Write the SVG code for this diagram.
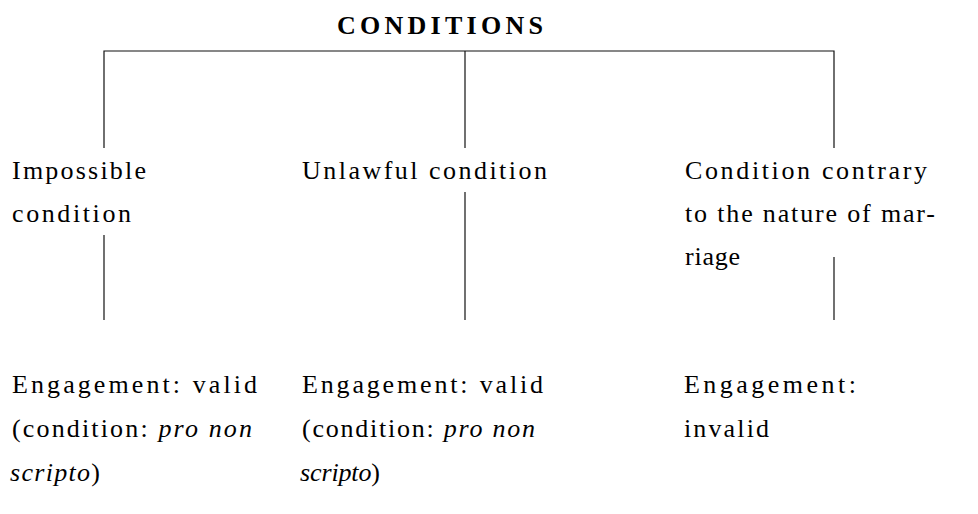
<svg xmlns="http://www.w3.org/2000/svg" width="978" height="514" viewBox="0 0 978 514">
  <style>
    .t { font-family: "Liberation Serif", "DejaVu Serif", serif; font-size: 26px; fill: #000; }
    .h { font-family: "Liberation Serif", "DejaVu Serif", serif; font-size: 26px; font-weight: bold; fill: #000; }
    .i { font-style: italic; }
    .c { fill: none; stroke: #111; stroke-width: 1.2; }
  </style>
  <rect width="978" height="514" fill="#fff"/>

  <!-- tree connectors -->
  <g id="connectors">
    <path class="c" d="M104 148 V51 H834 V148"/>
    <path class="c" d="M465 51 V148"/>
    <path class="c" d="M104 235 V320"/>
    <path class="c" d="M465 192 V320"/>
    <path class="c" d="M834 257 V320"/>
  </g>

  <g id="root">
    <text class="h" x="337" y="34" textLength="206" lengthAdjust="spacing">CONDITIONS</text>
  </g>

  <g id="impossible">
    <text class="t" x="12" y="179" textLength="134">Impossible</text>
    <text class="t" x="12" y="222" textLength="119">condition</text>
  </g>

  <g id="unlawful">
    <text class="t" x="302" y="179" textLength="245">Unlawful condition</text>
  </g>

  <g id="contrary">
    <text class="t" x="685" y="179" textLength="242">Condition contrary</text>
    <text class="t" x="685" y="222" textLength="250">to the nature of mar-</text>
    <text class="t" x="685" y="265" textLength="55">riage</text>
  </g>

  <g id="result-impossible">
    <text class="t" x="12" y="393" textLength="245">Engagement: valid</text>
    <text class="t" x="12" y="437" textLength="240">(condition: <tspan class="i">pro non</tspan></text>
    <text class="t" x="10" y="481" textLength="90"><tspan class="i">scripto</tspan>)</text>
  </g>

  <g id="result-unlawful">
    <text class="t" x="302" y="393" textLength="241">Engagement: valid</text>
    <text class="t" x="302" y="437" textLength="233">(condition: <tspan class="i">pro non</tspan></text>
    <text class="t" x="300" y="481" textLength="80"><tspan class="i">scripto</tspan>)</text>
  </g>

  <g id="result-contrary">
    <text class="t" x="684" y="393" textLength="172">Engagement:</text>
    <text class="t" x="684" y="437" textLength="85">invalid</text>
  </g>
</svg>
